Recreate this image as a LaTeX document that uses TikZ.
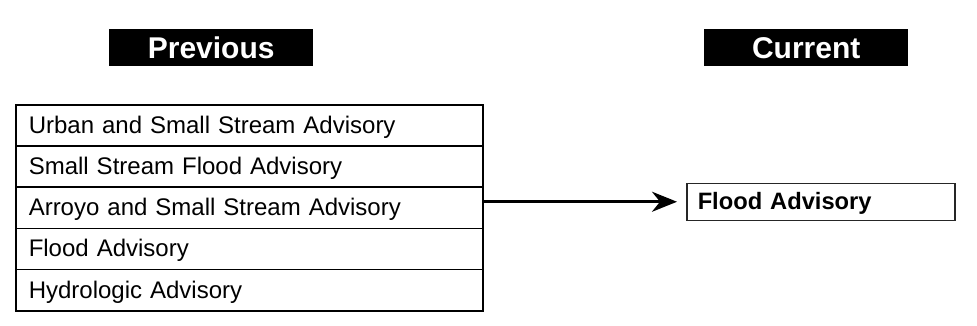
\documentclass[tikz,border=0pt]{standalone}
\usepackage{fontspec}
\setmainfont{Liberation Sans}
\usetikzlibrary{arrows.meta}
\begin{document}
\begin{tikzpicture}[x=1pt,y=-1pt,
  header/.style={fill=black,text=white,font=\fontsize{30}{36}\selectfont\bfseries,
    minimum width=204pt,minimum height=37pt,inner sep=0pt,anchor=north west},
  row/.style={draw=black,line width=1.5pt,anchor=north west,
    font=\fontsize{24}{28}\selectfont,text width=441pt,inner xsep=13pt,inner ysep=0pt,
    text height=16pt,text depth=0pt,
    minimum height=41.2pt,align=left},
  result/.style={draw=black!85,line width=1.5pt,anchor=north west,
    font=\fontsize{23.7}{28}\selectfont\bfseries,text width=246pt,inner xsep=11pt,inner ysep=0pt,
    text height=16pt,text depth=0pt,
    minimum height=37pt,align=left},
  link/.style={line width=3pt,-{Stealth[length=25pt,width=20pt,inset=8pt]},shorten >=9pt}]
\useasboundingbox (0,0) rectangle (977,325);
\node[header] (prev) at (109,29) {Previous};
\node[header] (curr) at (704,29) {Current};
\node[row] (r1) at (15,104) {Urban and Small Stream Advisory};
\node[row] (r2) at (15,145.2) {Small Stream Flood Advisory};
\node[row] (r3) at (15,186.4) {Arroyo and Small Stream Advisory};
\node[row] (r4) at (15,227.6) {Flood Advisory};
\node[row] (r5) at (15,268.8) {Hydrologic Advisory};
\node[result] (fa) at (686,182.5) {Flood Advisory};
\draw[link] (r3.east |- fa.west) -- (fa.west);
\end{tikzpicture}
\end{document}
